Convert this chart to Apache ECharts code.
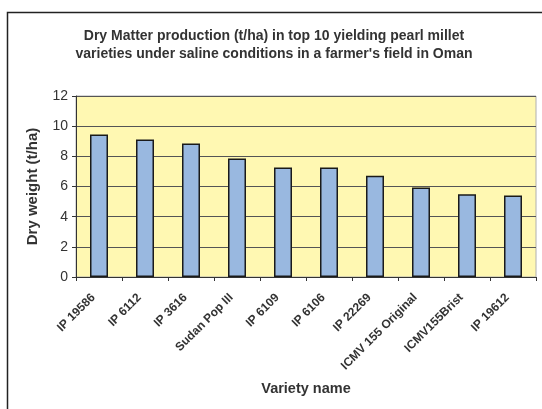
<!DOCTYPE html>
<html>
<head>
<meta charset="utf-8">
<script src="https://cdn.jsdelivr.net/npm/echarts@6/dist/echarts.min.js"></script>
<style>
  html, body { margin: 0; padding: 0; background: #fff; }
  #chart { width: 542px; height: 409px; }
</style>
</head>
<body>
<div id="chart"></div>
<script>
// Pearl millet varieties, ranked by dry matter yield (t/ha)
const varieties = ['IP 19586', 'IP 6112', 'IP 3616', 'Sudan Pop III', 'IP 6109',
  'IP 6106', 'IP 22269', 'ICMV 155 Original', 'ICMV155Brist', 'IP 19612'];
const dryWeight = [9.45, 9.12, 8.85, 7.86, 7.26, 7.26, 6.71, 5.94, 5.48, 5.41];
const yTicks = [0, 2, 4, 6, 8, 10, 12];

const titleLines = [
  'Dry Matter production (t/ha) in top 10 yielding pearl millet',
  "varieties under saline conditions in a farmer's field in Oman"
];

const font = 'Liberation Sans, Arial, sans-serif';
const chart = echarts.init(document.getElementById('chart'), null, { renderer: 'canvas' });

chart.setOption({
  backgroundColor: '#ffffff',
  animation: false,
  title: {
    text: titleLines.join('\n'),
    left: 269,
    top: 22,
    textAlign: 'center',
    textStyle: { fontFamily: font, fontSize: 14, fontWeight: 'bold', color: '#333', lineHeight: 18 }
  },
  graphic: [{
    type: 'rect',
    shape: { x: 7.5, y: 12.5, width: 600, height: 500 },
    style: { fill: 'none', stroke: '#222', lineWidth: 1.5 },
    silent: true
  }],
  grid: {
    left: 76, right: 6, top: 96, bottom: 132,
    show: true,
    backgroundColor: '#FFF8B2',
    borderColor: '#b0b0b0',
    borderWidth: 1
  },
  xAxis: {
    type: 'category',
    data: varieties,
    name: 'Variety name',
    nameLocation: 'middle',
    nameGap: 104,
    nameTextStyle: { fontFamily: font, fontSize: 14.5, fontWeight: 'bold', color: '#333' },
    axisLine: { lineStyle: { color: '#333', width: 1 } },
    axisTick: { show: true, alignWithLabel: false, length: 4, lineStyle: { color: '#333' } },
    axisLabel: {
      rotate: 45, interval: 0, margin: 13,
      padding: [0, 8, 0, 0],
      fontFamily: font, fontSize: 12, fontWeight: 'bold', color: '#333'
    }
  },
  yAxis: {
    type: 'value',
    min: yTicks[0],
    max: yTicks[yTicks.length - 1],
    interval: 2,
    name: 'Dry weight (t/ha)',
    nameLocation: 'middle',
    nameGap: 36,
    nameTextStyle: { fontFamily: font, fontSize: 15, fontWeight: 'bold', color: '#333' },
    axisLine: { show: true, lineStyle: { color: '#333', width: 1 } },
    axisTick: { show: true, length: 4, lineStyle: { color: '#333' } },
    axisLabel: { fontFamily: font, fontSize: 14, color: '#333', margin: 8 },
    splitLine: { show: true, lineStyle: { color: '#555', width: 1 } }
  },
  series: [{
    type: 'bar',
    data: dryWeight,
    barWidth: 18,
    itemStyle: { color: '#99B8E0', borderColor: '#1a1a1a', borderWidth: 1.5 }
  }]
});
</script>
</body>
</html>
